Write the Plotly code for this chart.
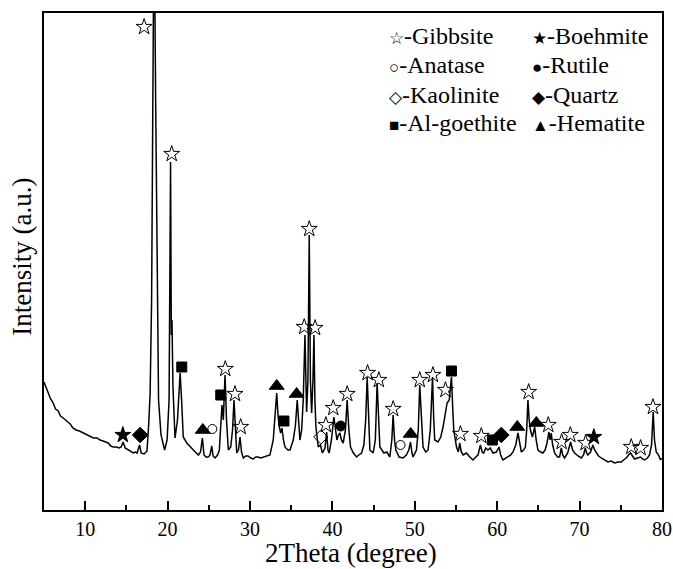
import plotly.graph_objects as go

# ---- XRD pattern (2Theta in degrees, intensity in a.u.) ----
two_theta = [5.0, 5.25, 5.5, 5.8, 6.12, 6.4, 6.73, 7.0, 7.33, 7.7, 8.18, 8.5, 8.9, 9.3, 9.76, 10.2,
             10.6, 11.0, 11.45, 11.8, 12.18, 12.5, 12.79, 13.1, 13.4, 13.8, 14.12, 14.36, 14.6, 14.85,
             15.2, 15.5, 15.82, 16.1, 16.3, 16.6, 16.79, 17.15, 17.5, 17.7, 17.88, 18.06, 18.24, 18.36,
             18.55, 18.73, 18.9, 19.2, 19.64, 19.94, 20.18, 20.36, 20.45, 20.53, 20.65, 20.9, 21.2, 21.4,
             21.52, 21.7, 21.9, 22.33, 22.73, 23.13, 23.73, 24.0, 24.22, 24.42, 24.67, 24.95, 25.15,
             25.36, 25.52, 25.76, 26.06, 26.28, 26.42, 26.6, 26.76, 26.97, 27.15, 27.37, 27.66, 27.88,
             28.06, 28.22, 28.39, 28.6, 28.79, 28.97, 29.19, 29.5, 29.76, 30.1, 30.4, 30.7, 30.97, 31.3,
             31.61, 32.06, 32.42, 32.82, 33.09, 33.24, 33.4, 33.55, 33.72, 33.88, 34.06, 34.24, 34.6,
             34.85, 35.25, 35.52, 35.73, 35.92, 36.06, 36.27, 36.46, 36.67, 36.87, 37.03, 37.19, 37.33,
             37.48, 37.64, 37.76, 37.88, 38.0, 38.28, 38.55, 38.79, 39.1, 39.3, 39.46, 39.61, 39.88,
             40.18, 40.36, 40.55, 40.73, 40.91, 41.09, 41.31, 41.58, 41.79, 42.0, 42.2, 42.55, 42.93,
             43.21, 43.54, 43.82, 44.04, 44.22, 44.39, 44.55, 44.95, 45.21, 45.43, 45.61, 45.76, 46.24,
             46.61, 46.97, 47.21, 47.37, 47.54, 47.7, 48.1, 48.58, 48.97, 49.27, 49.48, 49.64, 49.79,
             50.2, 50.42, 50.6, 50.79, 51.0, 51.33, 51.61, 51.88, 52.15, 52.3, 52.42, 52.82, 53.15,
             53.43, 53.7, 53.92, 54.18, 54.45, 54.61, 54.73, 55.06, 55.28, 55.45, 55.64, 55.86, 56.27,
             56.67, 57.07, 57.4, 57.67, 57.96, 58.18, 58.36, 58.6, 58.88, 59.15, 59.49, 59.9, 60.22,
             60.42, 60.7, 61.03, 61.31, 61.64, 61.92, 62.25, 62.52, 62.73, 62.93, 63.21, 63.42, 63.58,
             63.73, 63.88, 64.03, 64.27, 64.55, 64.73, 64.94, 65.27, 65.55, 65.82, 66.04, 66.28, 66.42,
             66.56, 66.73, 66.97, 67.33, 67.57, 67.78, 67.94, 68.18, 68.55, 68.91, 69.15, 69.39, 69.82,
             70.2, 70.48, 70.69, 70.85, 71.0, 71.33, 71.61, 71.82, 72.02, 72.3, 72.63, 73.03, 73.43,
             73.82, 74.24, 74.67, 75.05, 75.33, 75.66, 75.94, 76.18, 76.42, 76.67, 77.03, 77.39, 77.64,
             77.88, 78.24, 78.48, 78.73, 78.93, 79.09, 79.3, 79.58, 79.82, 79.95]
intensity = [128, 122, 118, 111, 107, 101, 99, 94, 92, 89, 86, 82, 80, 79, 77, 75,
             74, 72, 72, 70, 69, 68, 67, 64, 63, 63, 62, 63, 68, 62,
             60, 59, 57, 58, 57, 65, 57, 56, 59, 85, 117, 210, 410, 610,
             410, 210, 110, 75, 60, 70, 110, 348, 175, 190, 123, 72, 90, 130,
             137, 110, 73, 67, 63, 60, 55, 58, 72, 55, 53, 53, 55,
             64, 54, 52, 55, 60, 80, 105, 90, 135, 90, 60, 63, 80,
             110, 80, 57, 60, 73, 58, 52, 54, 54, 52, 51, 53, 53, 52,
             53, 54, 55, 70, 100, 117, 95, 83, 77, 82, 70, 63, 60,
             60, 70, 85, 110, 85, 70, 80, 110, 175, 98, 130, 275, 130,
             97, 130, 175, 110, 83, 63, 65, 57, 62, 78, 60, 57, 70,
             93, 80, 70, 75, 77, 70, 67, 80, 110, 80, 63, 57, 53,
             55, 57, 65, 90, 133, 90, 60, 57, 70, 127, 80, 63, 57,
             58, 53, 70, 95, 70, 60, 53, 52, 55, 60, 68, 58, 53,
             60, 80, 125, 90, 63, 58, 60, 80, 133, 90, 70, 68, 73,
             83, 95, 107, 110, 133, 100, 80, 63, 58, 67, 58, 55, 57,
             53, 50, 53, 55, 65, 58, 57, 62, 60, 62, 57, 58, 63,
             55, 50, 52, 53, 55, 58, 65, 77, 65, 58, 60, 63, 80,
             110, 90, 80, 73, 83, 70, 60, 58, 57, 60, 67, 78, 70,
             77, 65, 57, 53, 53, 62, 55, 52, 57, 68, 60, 57, 54,
             52, 55, 62, 57, 55, 58, 65, 60, 57, 54, 52, 50, 48,
             49, 47, 48, 48, 50, 52, 55, 57, 54, 51, 52, 53, 51,
             50, 52, 55, 65, 98, 70, 58, 55, 50, 52]

# ---- phase markers (2Theta, marker height) ----
gibbsite_x = [17.15, 20.5, 27.0, 28.18, 28.87, 36.58, 37.19, 37.9, 39.21, 40.1, 41.8, 44.27, 45.64,
              47.37, 50.6, 52.2, 53.72, 55.54, 58.07, 63.82, 66.2, 67.82, 68.87, 70.73, 76.27, 77.4, 78.9]
gibbsite_y = [483, 356, 141, 116, 83, 183, 281, 182, 85, 102, 116, 137, 130,
              101, 130, 135, 120, 76, 74, 118, 85, 68, 75, 67, 63, 62, 103]
boehmite_x = [14.57, 71.73]
boehmite_y = [75, 73]
anatase_x = [25.43, 48.27]
anatase_y = [81, 65]
rutile_x = [41.0]
rutile_y = [84]
kaolinite_x = [38.6]
kaolinite_y = [73]
quartz_x = [16.67, 60.5]
quartz_y = [75, 75]
goethite_x = [21.72, 26.45, 34.12, 54.45, 59.42]
goethite_y = [143, 115, 89, 139, 70]
hematite_x = [24.27, 33.24, 35.66, 49.5, 62.44, 64.75]
hematite_y = [80, 124, 116, 76, 83, 87]

legend_left_sym = ["☆", "○", "◇", "■"]
legend_left_txt = ["-Gibbsite", "-Anatase", "-Kaolinite", "-Al-goethite"]
legend_right_sym = ["★", "●", "◆", "▲"]
legend_right_txt = ["-Boehmite", "-Rutile", "-Quartz", "-Hematite"]

x_ticks = [10, 20, 30, 40, 50, 60, 70, 80]

FONT = "Liberation Serif"

fig = go.Figure()
fig.add_trace(go.Scatter(x=two_theta, y=intensity, mode="lines",
                         line=dict(color="black", width=1.5), showlegend=False))

def add_markers(xs, ys, symbol, size):
    fig.add_trace(go.Scatter(x=xs, y=ys, mode="markers", showlegend=False, cliponaxis=False,
                             marker=dict(symbol=symbol, size=size, color="black",
                                         line=dict(color="black", width=1))))

add_markers(gibbsite_x, gibbsite_y, "star-open", 12)
add_markers(boehmite_x, boehmite_y, "star", 12)
add_markers(anatase_x, anatase_y, "circle-open", 9)
add_markers(rutile_x, rutile_y, "circle", 10)
add_markers(kaolinite_x, kaolinite_y, "diamond-open", 11)
add_markers(quartz_x, quartz_y, "diamond", 12)
add_markers(goethite_x, goethite_y, "square", 10)
add_markers(hematite_x, hematite_y, "triangle-up", 13)

annotations = []
row_y = [0.953, 0.895, 0.835, 0.778]
for i in range(4):
    annotations.append(dict(text="<span style='font-size:17px'>" + legend_left_sym[i] + "</span>"
                            + legend_left_txt[i], x=0.555, y=row_y[i], xref="paper", yref="paper",
                            xanchor="left", yanchor="middle", showarrow=False,
                            font=dict(family=FONT, size=24, color="black")))
    annotations.append(dict(text="<span style='font-size:17px'>" + legend_right_sym[i] + "</span>"
                            + legend_right_txt[i], x=0.787, y=row_y[i], xref="paper", yref="paper",
                            xanchor="left", yanchor="middle", showarrow=False,
                            font=dict(family=FONT, size=24, color="black")))
annotations.append(dict(text="2Theta (degree)", x=0.497, y=-0.087, xref="paper", yref="paper",
                        xanchor="center", yanchor="middle", showarrow=False,
                        font=dict(family=FONT, size=27, color="black")))
annotations.append(dict(text="Intensity (a.u.)", x=-0.037, y=0.51, xref="paper", yref="paper",
                        xanchor="center", yanchor="middle", showarrow=False, textangle=-90,
                        font=dict(family=FONT, size=27, color="black")))

fig.update_layout(
    width=673, height=569,
    margin=dict(l=44, r=11, t=13, b=59),
    paper_bgcolor="white", plot_bgcolor="white",
    annotations=annotations,
    font=dict(family=FONT, color="black"),
)
fig.update_xaxes(range=[5, 80], tickvals=x_ticks, ticks="inside", ticklen=9, tickwidth=1.5,
                 tickcolor="black", showline=True, linecolor="black", linewidth=2, mirror=True,
                 automargin=False,
                 showgrid=False, zeroline=False, tickfont=dict(family=FONT, size=20, color="black"),
                 minor=dict(tickvals=[15, 25, 35, 45, 55, 65, 75], ticks="inside", ticklen=5,
                            tickwidth=1.5, tickcolor="black"))
fig.update_yaxes(range=[0, 497], showticklabels=False, ticks="", showline=True, linecolor="black",
                 linewidth=2, mirror=True, showgrid=False, zeroline=False, automargin=False)

fig.write_html("out.html")
